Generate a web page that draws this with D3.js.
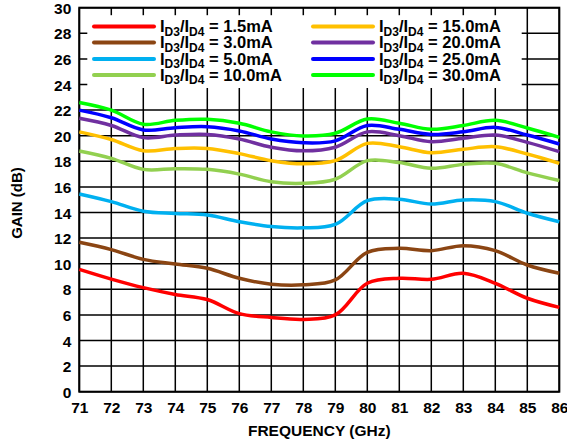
<!DOCTYPE html>
<html>
<head>
<meta charset="utf-8">
<script src="https://cdn.jsdelivr.net/npm/d3@7"></script>
<style>
  html, body { margin: 0; padding: 0; background: #fff; }
  svg { display: block; font-family: "Liberation Sans", Arial, Helvetica, sans-serif; font-weight: bold; }
</style>
</head>
<body>
<svg id="chart" width="567" height="446"></svg>
<script>
// ---- Data ----
const frequencies = [71, 72, 73, 74, 75, 76, 77, 78, 79, 80, 81, 82, 83, 84, 85, 86];
const xTicks = [71, 72, 73, 74, 75, 76, 77, 78, 79, 80, 81, 82, 83, 84, 85, 86];
const yTicks = [0, 2, 4, 6, 8, 10, 12, 14, 16, 18, 20, 22, 24, 26, 28, 30];
const currents = ["1.5mA", "3.0mA", "5.0mA", "10.0mA", "15.0mA", "20.0mA", "25.0mA", "30.0mA"];
const colors = ["#ff0000", "#8b4513", "#00b0f0", "#92d050", "#ffc000", "#7030a0", "#0000ff", "#00ff00"];

const gain_1p5 = [9.56, 8.8, 8.13, 7.6, 7.2, 6.1, 5.8, 5.65, 6.0, 8.47, 8.86, 8.78, 9.25, 8.47, 7.3, 6.59];
const gain_3p0 = [11.67, 11.1, 10.34, 9.98, 9.64, 8.86, 8.4, 8.35, 8.73, 10.89, 11.2, 11.02, 11.41, 11.02, 9.9, 9.25];
const gain_5p0 = [15.45, 14.85, 14.1, 13.93, 13.8, 13.28, 12.9, 12.8, 13.07, 14.92, 15.03, 14.66, 14.98, 14.85, 13.94, 13.28];
const gain_10 = [18.8, 18.23, 17.37, 17.42, 17.37, 17.0, 16.4, 16.28, 16.6, 18.05, 17.9, 17.45, 17.76, 17.84, 17.1, 16.5];
const gain_15 = [20.3, 19.7, 18.83, 19.0, 19.0, 18.6, 18.05, 17.8, 18.05, 19.4, 19.14, 18.67, 18.94, 19.14, 18.57, 17.84];
const gain_20 = [21.36, 20.8, 19.85, 20.05, 20.1, 19.74, 19.1, 18.82, 19.1, 20.3, 20.0, 19.53, 19.8, 20.05, 19.48, 18.75];
const gain_25 = [22.0, 21.4, 20.45, 20.63, 20.7, 20.37, 19.74, 19.45, 19.6, 20.8, 20.5, 20.1, 20.3, 20.65, 20.05, 19.35];
const gain_30 = [22.6, 22.0, 20.9, 21.2, 21.28, 20.97, 20.3, 19.98, 20.19, 21.3, 20.97, 20.5, 20.8, 21.2, 20.6, 19.87];

const seriesValues = [gain_1p5, gain_3p0, gain_5p0, gain_10, gain_15, gain_20, gain_25, gain_30];

// ---- Layout ----
const svg = d3.select("#chart");
const plot = { left: 79.3, right: 559.3, top: 7.7, bottom: 391.7 };

const x = d3.scaleLinear().domain([71, 86]).range([plot.left, plot.right]);
const y = d3.scaleLinear().domain([0, 30]).range([plot.bottom, plot.top]);

// Gridlines
const grid = svg.append("g");
grid.selectAll("line.v").data(xTicks).join("line")
  .attr("x1", d => x(d)).attr("x2", d => x(d))
  .attr("y1", plot.top).attr("y2", plot.bottom)
  .attr("stroke", "#000").attr("stroke-width", 1.5);
grid.selectAll("line.h").data(yTicks).join("line")
  .attr("x1", plot.left).attr("x2", plot.right)
  .attr("y1", d => y(d)).attr("y2", d => y(d))
  .attr("stroke", "#000").attr("stroke-width", 1.5);

// Legend background (covers grid, leaving border ticks)
svg.append("rect")
  .attr("x", plot.left + 8).attr("y", plot.top + 7.5)
  .attr("width", 521.7 - (plot.left + 8)).attr("height", 88 - (plot.top + 7.5))
  .attr("fill", "#fff");

// Frame
svg.append("rect")
  .attr("x", plot.left).attr("y", plot.top)
  .attr("width", plot.right - plot.left).attr("height", plot.bottom - plot.top)
  .attr("fill", "none").attr("stroke", "#000").attr("stroke-width", 2);

// Axes tick labels (via d3 axes, with lines hidden)
const xAxis = svg.append("g")
  .attr("transform", `translate(0,${plot.bottom})`)
  .call(d3.axisBottom(x).tickValues(xTicks).tickSize(0).tickPadding(0).tickFormat(d3.format("d")));
xAxis.select(".domain").remove();
xAxis.selectAll("text")
  .attr("y", 21.5).attr("dy", 0)
  .attr("font-size", 15.5).attr("font-weight", "bold")
  .attr("font-family", "'Liberation Sans', Arial, sans-serif").attr("fill", "#000");

const yAxis = svg.append("g")
  .attr("transform", `translate(${plot.left},0)`)
  .call(d3.axisLeft(y).tickValues(yTicks).tickSize(0).tickPadding(0).tickFormat(d3.format("d")));
yAxis.select(".domain").remove();
yAxis.selectAll("text")
  .attr("x", -8).attr("dy", "0.36em")
  .attr("font-size", 15.5).attr("font-weight", "bold")
  .attr("font-family", "'Liberation Sans', Arial, sans-serif").attr("fill", "#000");

// Axis titles
svg.append("text")
  .attr("x", (plot.left + plot.right) / 2).attr("y", 436)
  .attr("text-anchor", "middle").attr("font-size", 15.5)
  .text("FREQUENCY (GHz)");
svg.append("text")
  .attr("transform", "translate(22,203) rotate(-90)")
  .attr("text-anchor", "middle").attr("font-size", 15)
  .text("GAIN (dB)");

// Curves
const line = d3.line()
  .x((d, i) => x(frequencies[i]))
  .y(d => y(d))
  .curve(d3.curveCatmullRom.alpha(0.5));

svg.append("g").selectAll("path").data(seriesValues).join("path")
  .attr("d", d => line(d))
  .attr("fill", "none")
  .attr("stroke", (d, i) => colors[i])
  .attr("stroke-width", 3.5)
  .attr("stroke-linejoin", "round");

// Legend
const legend = svg.append("g");
const colX = [94, 313];
const rowY = [26.5, 42.5, 59, 75];
currents.forEach((c, i) => {
  const col = Math.floor(i / 4), row = i % 4;
  const lx = colX[col], ly = rowY[row];
  legend.append("line")
    .attr("x1", lx).attr("x2", lx + 60)
    .attr("y1", ly).attr("y2", ly)
    .attr("stroke", colors[i]).attr("stroke-width", 4).attr("stroke-linecap", "round");
  const t = legend.append("text")
    .attr("x", lx + 66).attr("y", ly + 5.5)
    .attr("font-size", 16.5);
  t.append("tspan").text("I");
  t.append("tspan").attr("dy", 3.5).attr("font-size", 12).text("D3");
  t.append("tspan").attr("dy", -3.5).text("/I");
  t.append("tspan").attr("dy", 3.5).attr("font-size", 12).text("D4");
  t.append("tspan").attr("dy", -3.5).text(" = " + c);
});
</script>
</body>
</html>
